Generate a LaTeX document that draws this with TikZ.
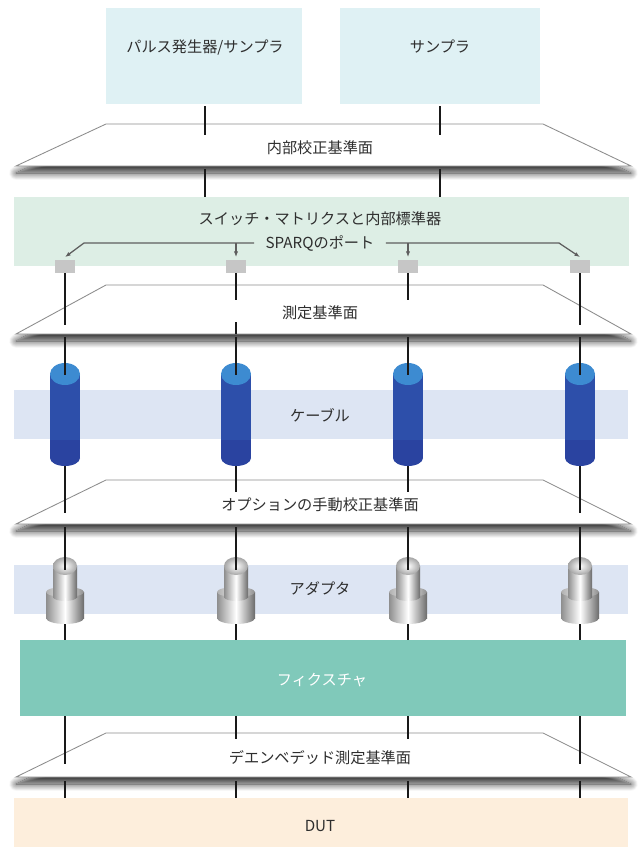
\documentclass[tikz,border=0pt]{standalone}
\usepackage{fontspec}
\setmainfont{Noto Sans CJK JP}
\usetikzlibrary{arrows.meta,shadows.blur}
\definecolor{unitfill}{HTML}{DFF1F4}
\definecolor{matrixfill}{HTML}{DDEEE5}
\definecolor{bandfill}{HTML}{DDE5F3}
\definecolor{fixturefill}{HTML}{80C9BA}
\definecolor{dutfill}{HTML}{FDEEDC}
\definecolor{portgray}{HTML}{C6C6C6}
\definecolor{arrowgray}{HTML}{5E5E5E}
\definecolor{planeedge}{HTML}{8C8C8C}
\definecolor{textgray}{HTML}{2E2E2E}
\definecolor{cablebody}{HTML}{2D4FAA}
\definecolor{cabledark}{HTML}{2A43A0}
\definecolor{cablecap}{HTML}{3D8BD1}
\definecolor{silverdark}{HTML}{8E8E8E}
\definecolor{silverlight}{HTML}{D6D6D6}
\begin{document}
\begin{tikzpicture}[x=0.025cm,y=-0.025cm,
  font=\fontsize{10.8}{12}\selectfont,
  every node/.style={text=textgray},
  plane/.style={draw=planeedge,line width=0.6pt,fill=white,
    blur shadow={shadow xshift=0pt,shadow yshift=-5pt,shadow blur radius=5pt,
      shadow blur steps=16,shadow opacity=80}},
  probe/.style={line width=2pt,draw=black!90},
  port/.style={fill=portgray,minimum width=14pt,minimum height=9pt,inner sep=0pt},
  portarrow/.style={draw=arrowgray,line width=0.9pt,-{Latex[length=4pt,width=3pt]}},
  silver/.style={left color=silverdark,right color=silverdark!75!black,middle color=white}]
\useasboundingbox (0,0) rectangle (643,851);

% instruments
\fill[unitfill] (106,8) rectangle (302,104);
\fill[unitfill] (340,8) rectangle (540,104);
\node (pulser) at (205,47) {パルス発生器/サンプラ};
\node (sampler) at (440,47) {サンプラ};

% switch matrix with the four ports
\fill[matrixfill] (14,197) rectangle (629,266);
\node (matrix) at (320,219) {スイッチ・マトリクスと内部標準器};
\node[inner xsep=8pt] (sparq) at (320,243) {SPARQのポート};
\foreach \x [count=\i] in {65,236,408,580}
  \node[port] (port\i) at (\x,266.5) {};
\draw[portarrow] (sparq.west) -- (84,243) -- ([yshift=2pt]port1.north);
\draw[portarrow] (port2.north |- sparq.west) -- ([yshift=2pt]port2.north);
\draw[portarrow] (port3.north |- sparq.east) -- ([yshift=2pt]port3.north);
\draw[portarrow] (sparq.east) -- (559,243) -- ([yshift=2pt]port4.north);

% bands, fixture, DUT
\fill[bandfill] (14,390) rectangle (628,439);
\node (cable) at (320,415) {ケーブル};
\fill[bandfill] (14,565) rectangle (628,614);
\node (adapter) at (320,589) {アダプタ};
\fill[fixturefill] (20,640) rectangle (626,716);
\node[text=white] (fixture) at (322,680) {フィクスチャ};
\fill[dutfill] (14,798) rectangle (628,847);
\node (dut) at (320,826) {DUT};

% reference planes
\foreach \t/\b/\name/\txt in {124/166/internal/内部校正基準面,
    285/334/meas/測定基準面,
    480/524/manual/オプションの手動校正基準面,
    733/777/deembed/デエンベデッド測定基準面}{
  \draw[plane] (106,\t) -- (543,\t) -- (631,\b) -- (16,\b) -- cycle;
  \node (\name) at (320,{(\t+\b)/2+3}) {\txt};
}

% cables and adapters
\foreach \x in {65,236,408,580}{
  \fill[cablebody] (\x-15,374) rectangle (\x+15,440);
  \fill[cabledark] (\x-15,440) rectangle (\x+15,458);
  \fill[cabledark] (\x,458) ellipse [x radius=15,y radius=8];
  \fill[cablecap] (\x,374) ellipse [x radius=15,y radius=11];
  \shade[silver] (\x,618) ellipse [x radius=19,y radius=6];
  \shade[silver] (\x-19,592) rectangle (\x+19,618);
  \shade[left color=silverdark!70,right color=silverdark,middle color=silverlight!40]
    (\x,592) ellipse [x radius=19,y radius=5];
  \shade[silver] (\x,597) ellipse [x radius=12,y radius=4];
  \shade[silver] (\x-12,566) rectangle (\x+12,597);
  \shade[inner color=white,outer color=silverdark!80] (\x,566) ellipse [x radius=12,y radius=9];
}

% signal paths
\foreach \x in {205,440}{
  \draw[probe] (\x,106) -- (\x,135);
  \draw[probe] (\x,169) -- (\x,197);
}
\foreach \i/\d/\e in {1/52/47,2/27/26,3/27/26,4/52/47}{
  \draw[probe] (port\i.south) -- ++(0,\d);
  \draw[probe] (port\i.south) ++(0,64) -- ++(0,38);
  \draw[probe] (port\i.south) ++(0,193) -- ++(0,\e);
  \draw[probe] (port\i.south) ++(0,254) -- ++(0,43);
  \draw[probe] (port\i.south) ++(0,351) -- ++(0,16);
  \draw[probe] (port\i.south) ++(0,443) -- ++(0,\d-4);
  \draw[probe] (port\i.south) ++(0,508) -- ++(0,17);
}
\draw[probe] (port2.south) ++(0,49) -- ++(0,12);
\end{tikzpicture}
\end{document}
